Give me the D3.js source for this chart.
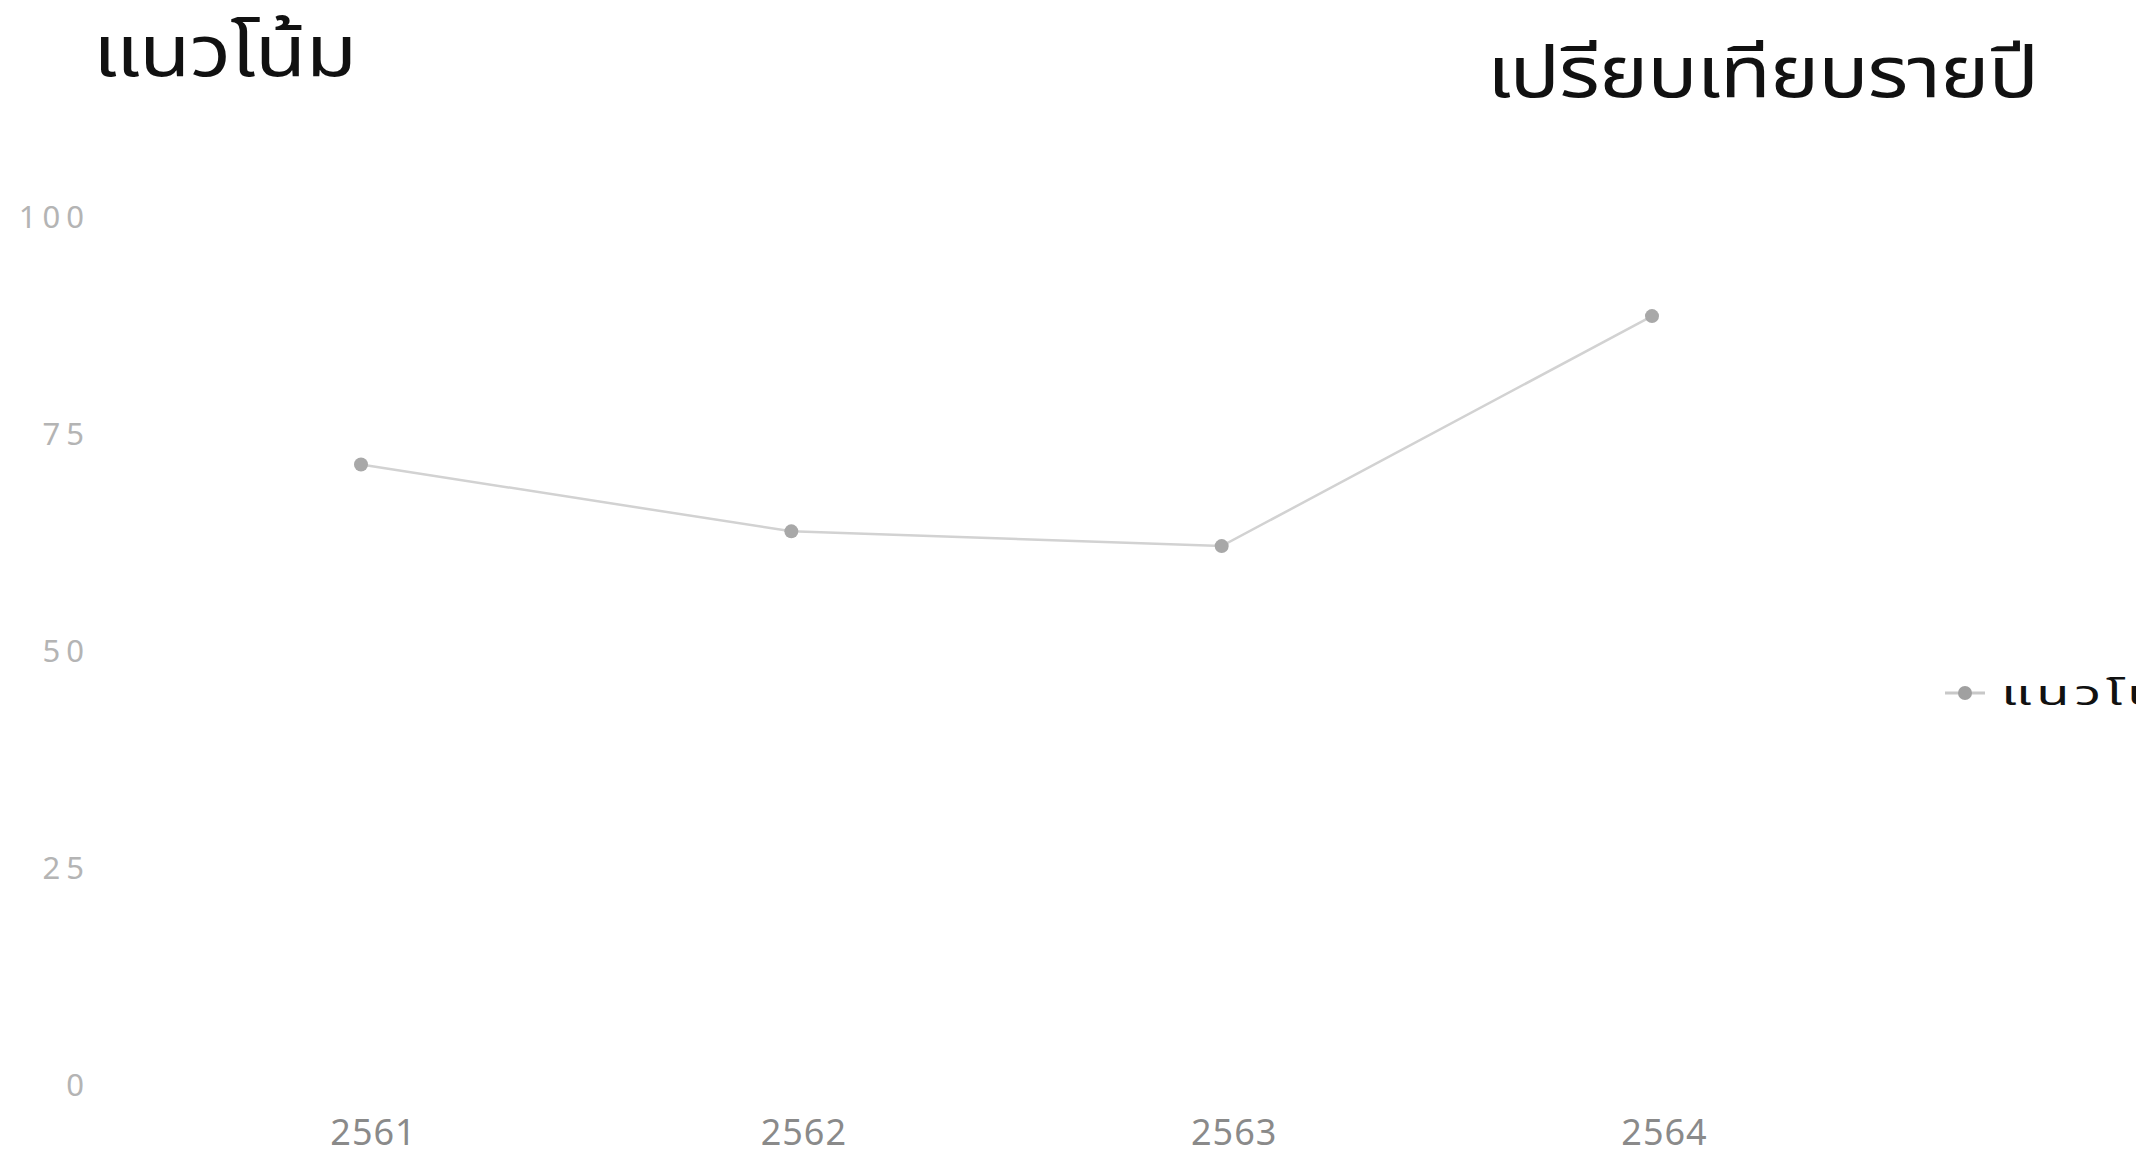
<!DOCTYPE html>
<html>
<head>
<meta charset="utf-8">
<script src="https://cdn.jsdelivr.net/npm/d3@7"></script>
<style>
  html, body { margin: 0; padding: 0; background: #ffffff; overflow: hidden; }
  svg { display: block; }
</style>
</head>
<body>
<svg id="chart" width="2136" height="1155"></svg>
<script>
// ---- data ----
const years = ["2561", "2562", "2563", "2564"];
const trendValues = [71.6, 63.9, 62.2, 88.7];
const yTicks = [0, 25, 50, 75, 100];
const leftTitle = "แนวโน้ม";
const rightTitle = "เปรียบเทียบรายปี";
const seriesName = "แนวโน้ม";

// ---- layout ----
const W = 2136, H = 1155;
const svg = d3.select("#chart");
const font = "'Noto Sans', 'Noto Sans Thai', sans-serif";

const x = d3.scalePoint().domain(years).range([361, 1652]);
const y = d3.scaleLinear().domain([0, 100]).range([1086, 218]);

// titles (slightly widened glyphs like the reference)
const sx = 1.16;
svg.append("text")
  .attr("transform", `translate(93,76) scale(${sx},1)`)
  .attr("font-family", font).attr("font-size", 72).attr("fill", "#111")
  .attr("textLength", 264 / sx).attr("lengthAdjust", "spacing")
  .text(leftTitle);
svg.append("text")
  .attr("transform", `translate(1487,97) scale(${sx},1)`)
  .attr("font-family", font).attr("font-size", 72).attr("fill", "#111")
  .attr("textLength", 552 / sx).attr("lengthAdjust", "spacing")
  .text(rightTitle);

// y axis (labels only)
const yAxis = d3.axisLeft(y).tickValues(yTicks).tickSize(0).tickPadding(0);
const gy = svg.append("g").attr("transform", "translate(90,0)").call(yAxis);
gy.select(".domain").remove();
gy.selectAll("text").attr("font-family", font).attr("font-size", 31)
  .attr("fill", "#b4b4b4").attr("letter-spacing", 6);

// x axis (labels only)
const xAxis = d3.axisBottom(x).tickSize(0).tickPadding(0);
const gx = svg.append("g").attr("transform", "translate(12,1119)").call(xAxis);
gx.select(".domain").remove();
gx.selectAll("text").attr("font-family", font).attr("font-size", 36)
  .attr("fill", "#8a8a8a").attr("letter-spacing", 1).attr("dy", "0.71em");

// line
const line = d3.line().x((d, i) => x(years[i])).y(d => y(d));
svg.append("path").datum(trendValues)
  .attr("d", line).attr("fill", "none").attr("stroke", "#d2d2d2").attr("stroke-width", 2.5);

svg.selectAll("circle.pt").data(trendValues).enter().append("circle")
  .attr("class", "pt")
  .attr("cx", (d, i) => x(years[i])).attr("cy", d => y(d))
  .attr("r", 7).attr("fill", "#a8a8a8");

// legend (text runs off the right edge, as in the reference)
const lg = svg.append("g").attr("transform", "translate(1945,693)");
lg.append("line").attr("x1", 0).attr("x2", 40).attr("y1", 0).attr("y2", 0)
  .attr("stroke", "#c8c8c8").attr("stroke-width", 3);
lg.append("circle").attr("cx", 20).attr("cy", 0).attr("r", 7).attr("fill", "#a0a0a0");
lg.append("text").attr("transform", "translate(56,12) scale(1.6,1)")
  .attr("font-family", font).attr("font-size", 34).attr("fill", "#111")
  .attr("letter-spacing", 3)
  .text(seriesName);
</script>
</body>
</html>
